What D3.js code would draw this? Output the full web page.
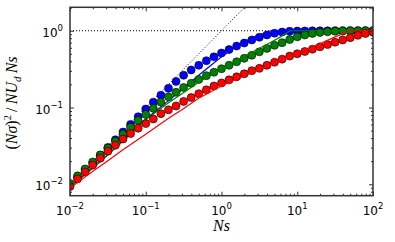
<!DOCTYPE html>
<html lang="en">
<head>
<meta charset="UTF-8">
<title>Ns scaling</title>
<script src="https://d3js.org/d3.v7.min.js"></script>
<style>
  body { margin: 0; background: #fff; }
  .tick-label { font-family: "DejaVu Sans", sans-serif; font-size: 12px; fill: #000; }
  .math { font-family: "Liberation Serif", serif; font-size: 16px; fill: #000; }
</style>
</head>
<body>
<div id="chart"></div>
<script>
// simulation points, 10 per decade
const nsPoints = [0.01, 0.01259, 0.01585, 0.01995, 0.02512, 0.03162, 0.03981, 0.05012, 0.0631, 0.07943,
  0.1, 0.1259, 0.1585, 0.1995, 0.2512, 0.3162, 0.3981, 0.5012, 0.631, 0.7943,
  1, 1.259, 1.585, 1.995, 2.512, 3.162, 3.981, 5.012, 6.31, 7.943,
  10, 12.59, 15.85, 19.95, 25.12, 31.62, 39.81, 50.12, 63.1, 79.43, 100];

const bluePoints = [0.00977, 0.0123, 0.0155, 0.01905, 0.02399, 0.0302, 0.038, 0.0479, 0.0603, 0.0759,
  0.0955, 0.1175, 0.1445, 0.1778, 0.2188, 0.263, 0.309, 0.355, 0.407, 0.457,
  0.513, 0.569, 0.631, 0.692, 0.759, 0.822, 0.881, 0.929, 0.962, 0.982,
  0.991, 0.995, 0.997, 0.998, 0.999, 1, 1, 1, 1, 1, 1];

const greenPoints = [0.01023, 0.01288, 0.01585, 0.0195, 0.024, 0.0295, 0.0363, 0.0447, 0.055, 0.0676,
  0.0813, 0.0977, 0.1175, 0.138, 0.158, 0.182, 0.2065, 0.2317, 0.26, 0.288,
  0.32, 0.355, 0.394, 0.437, 0.479, 0.531, 0.589, 0.646, 0.7, 0.767,
  0.832, 0.881, 0.923, 0.951, 0.97, 0.986, 0.993, 0.996, 0.998, 0.999, 1];

const redPoints = [0.00933, 0.01175, 0.01445, 0.01778, 0.02188, 0.02692, 0.03236, 0.0389, 0.0457, 0.0537,
  0.0617, 0.0708, 0.0832, 0.0933, 0.1047, 0.1202, 0.1349, 0.1514, 0.1698, 0.1905,
  0.2089, 0.2291, 0.2512, 0.2754, 0.302, 0.3236, 0.3548, 0.389, 0.4266, 0.4677,
  0.5012, 0.537, 0.5754, 0.6166, 0.6607, 0.7079, 0.7586, 0.8128, 0.871, 0.9226, 0.955];

// theory curves
const curveNs = [0.01, 0.02, 0.03, 0.05, 0.1, 0.2, 0.3, 0.5, 1, 1.5, 2, 3, 4.5, 6, 8, 10, 15, 20, 30, 50, 100];
const blueCurve = [0.00912, 0.0166, 0.0234, 0.0372, 0.0708, 0.123, 0.170, 0.263, 0.457, 0.603, 0.724, 0.871, 1, 1, 1, 1, 1, 1, 1, 1, 1];
const greenCurve = [0.00912, 0.0162, 0.0229, 0.0363, 0.0692, 0.115, 0.151, 0.214, 0.316, 0.398, 0.468, 0.575, 0.708, 0.832, 1, 1, 1, 1, 1, 1, 1];
const redCurve = [0.00891, 0.0148, 0.0195, 0.0282, 0.0447, 0.0724, 0.0933, 0.132, 0.191, 0.229, 0.257, 0.309, 0.363, 0.417, 0.457, 0.501, 0.603, 0.676, 0.813, 1, 1];

// dotted guides: y = Ns and y = 1
const diagNs = [0.01, 3];
const plateauNs = [0.01, 100];

const xTickExps = [-2, -1, 0, 1, 2];
const yTickExps = [-2, -1, 0];

const width = 395, height = 242;
const margin = { top: 7.3, right: 22, bottom: 46.3, left: 70 };

const svg = d3.select('#chart').append('svg')
  .attr('width', width)
  .attr('height', height);

const x = d3.scaleLog().domain([0.01, 100]).range([margin.left, width - margin.right]);
const y = d3.scaleLog().domain([0.0071, 2.02]).range([height - margin.bottom, margin.top]);

svg.append('clipPath').attr('id', 'plot-clip')
  .append('rect')
  .attr('x', margin.left).attr('y', margin.top)
  .attr('width', width - margin.left - margin.right)
  .attr('height', height - margin.top - margin.bottom);

const plot = svg.append('g').attr('clip-path', 'url(#plot-clip)');

// dotted guides
const line = d3.line().x(d => x(d[0])).y(d => y(d[1]));
plot.append('path')
  .attr('d', line(diagNs.map(d => [d, d])))
  .attr('fill', 'none').attr('stroke', '#000').attr('stroke-width', 1)
  .attr('stroke-dasharray', '1,2');
plot.append('path')
  .attr('d', line(plateauNs.map(d => [d, 1])))
  .attr('fill', 'none').attr('stroke', '#000').attr('stroke-width', 1)
  .attr('stroke-dasharray', '1,2');

const series = [
  { color: '#0000ff', pts: bluePoints, curve: blueCurve },
  { color: '#008000', pts: greenPoints, curve: greenCurve },
  { color: '#ff0000', pts: redPoints, curve: redCurve }
];

series.forEach(s => {
  plot.append('g').selectAll('circle')
    .data(nsPoints.map((n, i) => [n, s.pts[i]]))
    .enter().append('circle')
    .attr('cx', d => x(d[0]))
    .attr('cy', d => y(d[1]))
    .attr('r', 4)
    .attr('fill', s.color)
    .attr('stroke', '#000')
    .attr('stroke-width', 0.6);

  plot.append('path')
    .attr('d', line(curveNs.map((n, i) => [n, s.curve[i]])))
    .attr('fill', 'none')
    .attr('stroke', s.color)
    .attr('stroke-width', 1.2);
});

// ticks, pointing inward on all four sides
const xMajor = xTickExps.map(e => Math.pow(10, e));
const yMajor = yTickExps.map(e => Math.pow(10, e));
const xMinor = [], yMinor = [];
for (let e = -2; e < 2; e++) for (let m = 2; m <= 9; m++) xMinor.push(m * Math.pow(10, e));
for (let e = -3; e <= 0; e++) for (let m = 2; m <= 9; m++) {
  const v = m * Math.pow(10, e);
  if (v > 0.0071 && v < 2.02) yMinor.push(v);
}

function addAxis(axisFn, scale, vals, size, transform) {
  const g = svg.append('g')
    .attr('transform', transform)
    .call(axisFn(scale).tickValues(vals).tickSize(-size).tickFormat(''));
  g.select('.domain').remove();
  g.selectAll('line').attr('stroke', '#333').attr('stroke-width', 1);
}
const bottomY = height - margin.bottom, rightX = width - margin.right;
addAxis(d3.axisBottom, x, xMajor, 4, `translate(0,${bottomY})`);
addAxis(d3.axisBottom, x, xMinor, 2, `translate(0,${bottomY})`);
addAxis(d3.axisTop, x, xMajor, 4, `translate(0,${margin.top})`);
addAxis(d3.axisTop, x, xMinor, 2, `translate(0,${margin.top})`);
addAxis(d3.axisLeft, y, yMajor, 4, `translate(${margin.left},0)`);
addAxis(d3.axisLeft, y, yMinor, 2, `translate(${margin.left},0)`);
addAxis(d3.axisRight, y, yMajor, 4, `translate(${rightX},0)`);
addAxis(d3.axisRight, y, yMinor, 2, `translate(${rightX},0)`);

// frame
svg.append('rect')
  .attr('x', margin.left).attr('y', margin.top)
  .attr('width', rightX - margin.left)
  .attr('height', bottomY - margin.top)
  .attr('fill', 'none').attr('stroke', '#333').attr('stroke-width', 1.5);

// tick labels: 10 with superscript exponent
function powerLabel(sel, e) {
  sel.append('tspan').text('10');
  sel.append('tspan').attr('dy', -6).style('font-size', '8.5px')
    .text(String(e).replace('-', '\u2212'));
}
xTickExps.forEach(e => {
  const t = svg.append('text').attr('class', 'tick-label')
    .attr('x', x(Math.pow(10, e))).attr('y', bottomY + 19.5)
    .attr('text-anchor', 'middle');
  powerLabel(t, e);
});
yTickExps.forEach(e => {
  const t = svg.append('text').attr('class', 'tick-label')
    .attr('x', margin.left - 7).attr('y', y(Math.pow(10, e)) + 6)
    .attr('text-anchor', 'end');
  powerLabel(t, e);
});

// axis labels
svg.append('text').attr('class', 'math')
  .attr('x', x(1)).attr('y', 231)
  .attr('text-anchor', 'middle')
  .style('font-style', 'italic')
  .text('Ns');

const yl = svg.append('text').attr('class', 'math')
  .attr('transform', 'translate(17,103) rotate(-90)')
  .attr('text-anchor', 'middle');
yl.append('tspan').text('(');
yl.append('tspan').style('font-style', 'italic').text('N\u03c3');
yl.append('tspan').text(')');
yl.append('tspan').attr('dy', -6).style('font-size', '10.5px').text('2');
yl.append('tspan').attr('dy', 6).text('\u2009/\u2009');
yl.append('tspan').style('font-style', 'italic').text('NU');
yl.append('tspan').attr('dy', 4).style('font-size', '11px').style('font-style', 'italic').text('d');
yl.append('tspan').attr('dy', -4).style('font-style', 'italic').text('\u2009Ns');
</script>
</body>
</html>
